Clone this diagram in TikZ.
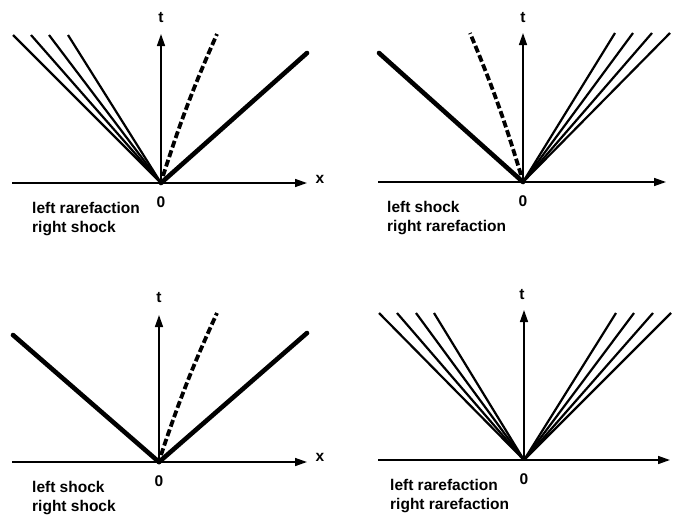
\documentclass[tikz,border=0pt]{standalone}
\usepackage{fontspec}
\setmainfont{Liberation Sans}
\usetikzlibrary{arrows.meta}
\begin{document}
\begin{tikzpicture}[x=1pt,y=-1pt,
  axis/.style={line width=1.5pt,-{Triangle[length=12pt,width=8pt]}},
  fan/.style={line width=2.2pt},
  shock/.style={line width=4.6pt,line cap=round},
  contact/.style={line width=3.8pt,dash pattern=on 7pt off 3pt},
  lbl/.style={font=\fontsize{15.5}{18}\selectfont\bfseries,inner sep=0pt},
  captext/.style={lbl,anchor=base west}]
\useasboundingbox (0,0) rectangle (677,520);
% ---------- top left: left rarefaction, right shock
\coordinate (o1) at (161,183);
\coordinate (xa1) at (12,183); \coordinate (xb1) at (307,183);
\coordinate (ta1) at (161,34);
\draw[axis] (xa1) -- (xb1);
\draw[axis] (o1) -- (ta1);
\foreach \i/\xx in {1/13,2/31,3/49,4/68}{
  \coordinate (fa1\i) at (\xx,35);
  \draw[fan] (o1) -- (fa1\i);}
\coordinate (ca1) at (217,34);
\coordinate (cs1) at (163,176);
\draw[contact] (cs1) to[bend left=3] (ca1);
\coordinate (sa1) at (307,53);
\draw[shock] (o1) -- (sa1);
\node[lbl] (t1) at (161,18) {t};
\node[lbl] (x1) at (320,179) {x};
\node[lbl] (z1) at (161,202) {0};
\node[captext] (c1a) at (32,213) {left rarefaction};
\node[captext] (c1b) at (32,232) {right shock};
% ---------- top right: left shock, right rarefaction
\coordinate (o2) at (523,182);
\coordinate (xa2) at (378,182); \coordinate (xb2) at (666,182);
\coordinate (ta2) at (523,33);
\draw[axis] (xa2) -- (xb2);
\draw[axis] (o2) -- (ta2);
\foreach \i/\xx in {1/615,2/633,3/652,4/670}{
  \coordinate (fa2\i) at (\xx,33);
  \draw[fan] (o2) -- (fa2\i);}
\coordinate (ca2) at (470,33);
\coordinate (cs2) at (521,175);
\draw[contact] (cs2) to[bend right=3] (ca2);
\coordinate (sa2) at (379,53);
\draw[shock] (o2) -- (sa2);
\node[lbl] (t2) at (523,18) {t};
\node[lbl] (x2) at (683,178) {x};
\node[lbl] (z2) at (523,201) {0};
\node[captext] (c2a) at (387,212) {left shock};
\node[captext] (c2b) at (387,231) {right rarefaction};
% ---------- bottom left: left shock, right shock
\coordinate (o3) at (159,462);
\coordinate (xa3) at (12,462); \coordinate (xb3) at (307,462);
\coordinate (ta3) at (159,315);
\draw[axis] (xa3) -- (xb3);
\draw[axis] (o3) -- (ta3);
\coordinate (ca3) at (217,313);
\coordinate (cs3) at (161,455);
\draw[contact] (cs3) to[bend left=3] (ca3);
\coordinate (sl3) at (13,335);
\coordinate (sr3) at (307,333);
\draw[shock] (o3) -- (sl3);
\draw[shock] (o3) -- (sr3);
\node[lbl] (t3) at (159,298) {t};
\node[lbl] (x3) at (320,457) {x};
\node[lbl] (z3) at (159,481) {0};
\node[captext] (c3a) at (32,492) {left shock};
\node[captext] (c3b) at (32,511) {right shock};
% ---------- bottom right: left rarefaction, right rarefaction
\coordinate (o4) at (524,460);
\coordinate (xa4) at (378,460); \coordinate (xb4) at (670,460);
\coordinate (ta4) at (524,310);
\draw[axis] (xa4) -- (xb4);
\draw[axis] (o4) -- (ta4);
\foreach \i/\xx in {1/379,2/397,3/416,4/434}{
  \coordinate (fl4\i) at (\xx,313);
  \draw[fan] (o4) -- (fl4\i);}
\foreach \i/\xx in {1/616,2/634,3/653,4/671}{
  \coordinate (fr4\i) at (\xx,313);
  \draw[fan] (o4) -- (fr4\i);}
\node[lbl] (t4) at (522,295) {t};
\node[lbl] (x4) at (687,455) {x};
\node[lbl] (z4) at (524,479) {0};
\node[captext] (c4a) at (390,490) {left rarefaction};
\node[captext] (c4b) at (390,509) {right rarefaction};
\end{tikzpicture}
\end{document}
